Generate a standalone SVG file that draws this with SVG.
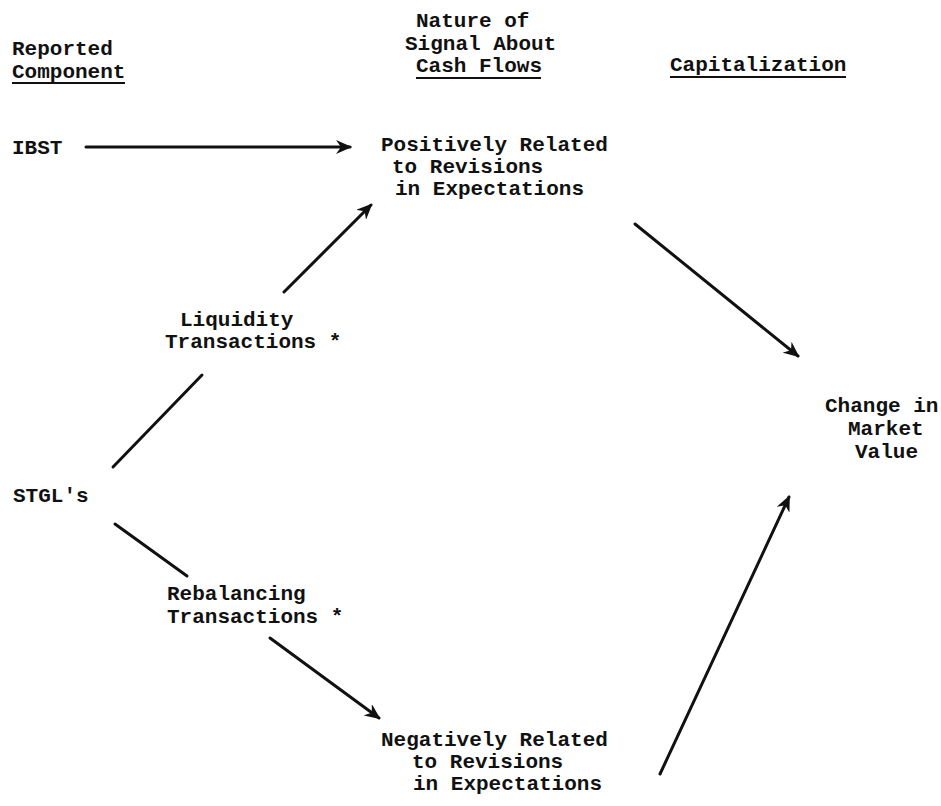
<svg xmlns="http://www.w3.org/2000/svg" width="941" height="806" viewBox="0 0 941 806">
<style>
text{font-family:"Liberation Mono","DejaVu Sans Mono",monospace;font-size:21px;font-weight:bold;fill:#111;}
.ul{stroke:#111;stroke-width:2;}
.c{stroke:#111;stroke-width:3;fill:none;stroke-linecap:round;}
</style>
<defs>
<marker id="ah" markerUnits="userSpaceOnUse" markerWidth="16" markerHeight="14" refX="14" refY="7" orient="auto">
<path d="M0,0 L16,7 L0,14 L5,7 z" fill="#111"/>
</marker>
</defs>
<rect width="941" height="806" fill="#fff"/>
<g id="hdr-reported">
<text x="12" y="55">Reported</text>
<text x="12" y="78">Component</text>
<line class="ul" x1="12" y1="83" x2="125" y2="83"/>
</g>
<g id="hdr-nature">
<text x="416" y="27">Nature of</text>
<text x="405" y="50">Signal About</text>
<text x="416" y="72">Cash Flows</text>
<line class="ul" x1="416" y1="78" x2="541" y2="78"/>
</g>
<g id="hdr-capitalization">
<text x="670" y="71">Capitalization</text>
<line class="ul" x1="670" y1="77" x2="846" y2="77"/>
</g>
<g id="ibst"><text x="12" y="154">IBST</text></g>
<g id="positive">
<text x="381" y="151">Positively Related</text>
<text x="392" y="173">to Revisions</text>
<text x="395" y="195">in Expectations</text>
</g>
<g id="liquidity">
<text x="180" y="326">Liquidity</text>
<text x="165" y="348">Transactions *</text>
</g>
<g id="stgl"><text x="13" y="502">STGL's</text></g>
<g id="rebalancing">
<text x="167" y="600">Rebalancing</text>
<text x="167" y="623">Transactions *</text>
</g>
<g id="negative">
<text x="381" y="746">Negatively Related</text>
<text x="412" y="768">to Revisions</text>
<text x="413" y="790">in Expectations</text>
</g>
<g id="change">
<text x="825" y="412">Change in</text>
<text x="848" y="435">Market</text>
<text x="855" y="458">Value</text>
</g>
<g id="connectors">
<line class="c" x1="86" y1="147" x2="350" y2="147" marker-end="url(#ah)"/>
<line class="c" x1="113" y1="467" x2="202" y2="375"/>
<line class="c" x1="284" y1="292" x2="371" y2="205" marker-end="url(#ah)"/>
<line class="c" x1="115" y1="524" x2="187" y2="576"/>
<line class="c" x1="270" y1="638" x2="379" y2="718" marker-end="url(#ah)"/>
<line class="c" x1="635" y1="224" x2="798" y2="356" marker-end="url(#ah)"/>
<line class="c" x1="660" y1="774" x2="789" y2="497" marker-end="url(#ah)"/>
</g>
</svg>
